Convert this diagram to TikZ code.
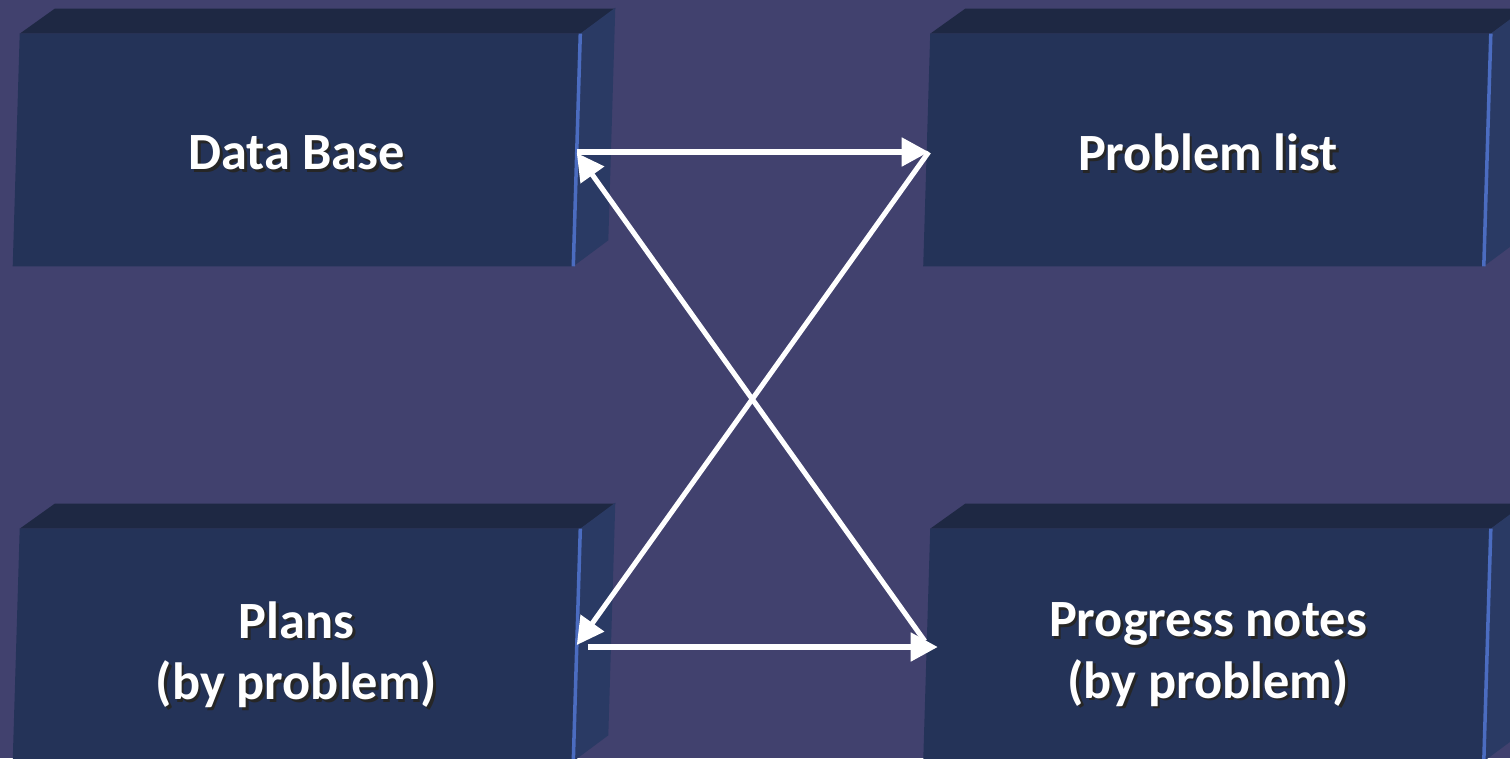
\documentclass[tikz,border=0pt]{standalone}
\usepackage{fontspec}
\setmainfont{Carlito}
\usepackage{tikz}
\usetikzlibrary{arrows.meta,calc}

\definecolor{bgpurple}{HTML}{41416E}
\definecolor{frontblue}{HTML}{243358}
\definecolor{topblue}{HTML}{1E2843}
\definecolor{sideblue}{HTML}{2A3A64}
\definecolor{edgeblue}{HTML}{4B6CC0}
\newcommand{\shtext}[1]{\leavevmode\rlap{\kern1.5pt\raisebox{-1.5pt}{\textcolor{black!85}{#1}}}#1}

\begin{document}
\begin{tikzpicture}[x=0.02cm,y=-0.02cm,font=\bfseries\fontsize{29.8}{35}\selectfont,
  frontbox/.style={minimum width=11.2cm,minimum height=4.64cm,inner sep=0pt},
  boxlabel/.style={text=white,align=center,inner sep=0pt},
  link/.style={draw=white,line width=2.9pt,-{Triangle[length=0.54cm,width=0.56cm]}}]
\fill[bgpurple] (0,0) rectangle (1510,758);
\useasboundingbox (0,0) rectangle (1510,758);

% the four blocks
\node[frontbox] (db) at (296.5,150) {};
\node[frontbox] (pl) at (1207,150) {};
\node[frontbox] (pp) at (296.5,645) {};
\node[frontbox] (pn) at (1207,645) {};

\foreach \b in {db,pl,pp,pn} {
  \path ([shift={(3.5,0)}]\b.north west) coordinate (nw)
        ([shift={(3.5,0)}]\b.north east) coordinate (ne)
        ([shift={(-3.5,0)}]\b.south east) coordinate (se)
        ([shift={(-3.5,0)}]\b.south west) coordinate (sw);
  \fill[topblue] (nw) -- ++(35,-25) -- ($(ne)+(35,-25)$) -- (ne) -- cycle;
  \fill[sideblue] (ne) -- ++(35,-26) -- ($(se)+(35,-26)$) -- (se) -- cycle;
  \fill[frontblue] (nw) -- (ne) -- (se) -- (sw) -- cycle;
  \draw[edgeblue,line width=2pt] (ne) -- (se);
}

\node[boxlabel] (dbt) at ([shift={(0,4)}]db.center) {\shtext{Data Base}};
\node[boxlabel] (plt) at ([shift={(1,4)}]pl.center) {\shtext{Problem list}};
\node[boxlabel] (ppt) at ([shift={(0,11)}]pp.center) {\shtext{Plans}\\\shtext{(by problem)}};
\node[boxlabel] (pnt) at ([shift={(1,11)}]pn.center) {\shtext{Progress notes}\\\shtext{(by problem)}};

% connectors
\draw[link] ([shift={(0,2)}]db.east) -- ([shift={(2,2)}]pl.west);
\draw[link] ([shift={(2,2)}]pl.west) -- (pp.east);
\draw[link] ([shift={(11,2)}]pp.east) -- ([shift={(11,2)}]pn.west);
\draw[link] ([shift={(-2,-4)}]pn.west) -- ([shift={(0,3)}]db.east);
\end{tikzpicture}
\end{document}
